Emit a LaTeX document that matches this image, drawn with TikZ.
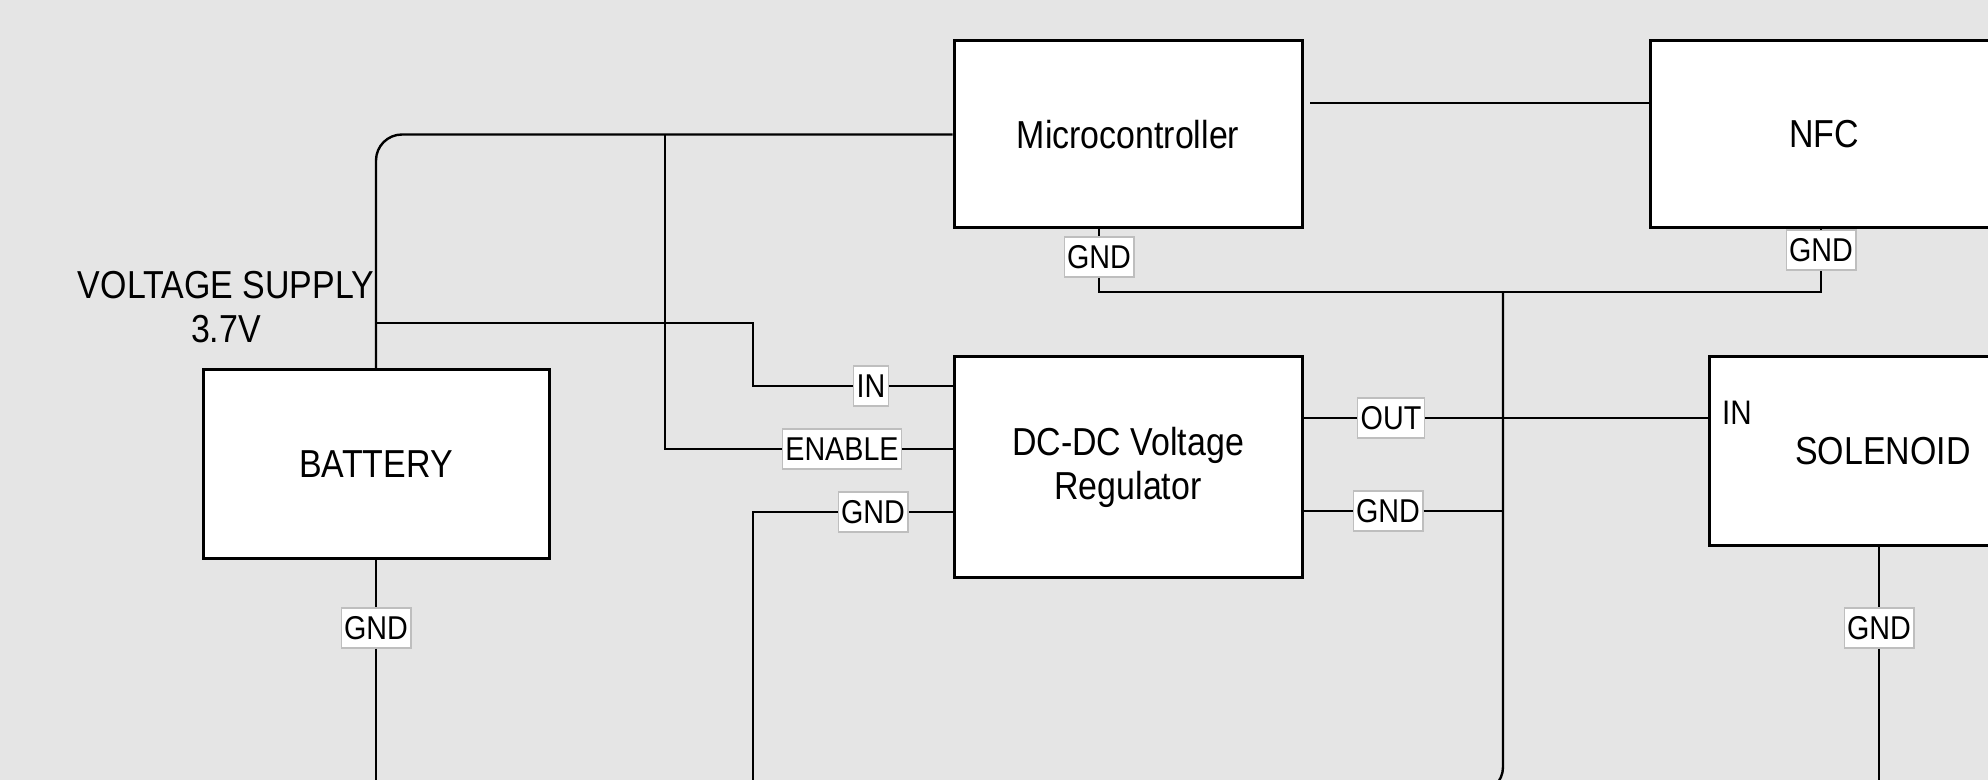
\documentclass[tikz,border=0pt]{standalone}
\usepackage{fontspec}
\setmainfont{Liberation Sans}[FakeStretch=0.87]
\usetikzlibrary{positioning, calc}
\definecolor{canvasgray}{RGB}{229,229,229}
\definecolor{taggray}{RGB}{190,190,190}

\begin{document}
\begin{tikzpicture}[
      x=0.5pt, y=-0.5pt,
      node distance  = 63pt and 172.5pt,
      block/.style   = {draw=black, line width=1.5pt, fill=white, inner sep=0pt,
                        minimum width=174pt, minimum height=93.5pt, align=center,
                        font=\fontsize{19.5}{22}\selectfont},
      tag/.style     = {draw=taggray, line width=0.6pt, fill=white, inner xsep=1.5pt,
                        inner ysep=0pt, minimum height=20pt,
                        font=\fontsize{16.5}{19}\selectfont},
      wire/.style    = {draw=black, line width=1.2pt}
    ]

    % Canvas
    \fill[canvasgray] (0,0) rectangle (1988,780);
    \useasboundingbox (0,0) rectangle (1988,780);
    \clip (0,0) rectangle (1988,780);

    % Blocks
    \node[block] (mcu) at (1128,134.5) {Microcontroller};
    \node[block, right=of mcu] (nfc) {NFC};
    \node[block, minimum height=110.5pt, below=of mcu] (reg) {DC-DC Voltage\\Regulator};
    \node[block, minimum height=94.5pt, right=202pt of reg.north east, anchor=north west] (sol) {SOLENOID};
    \node[block, minimum width=173pt, minimum height=94.5pt] (batt) at (376,464) {BATTERY};

    % Texts
    \node[inner sep=0pt, align=center, font=\fontsize{19.5}{22}\selectfont] (supply) at (226,307.5) {VOLTAGE SUPPLY\\3.7V};
    \node[inner sep=0pt, font=\fontsize{17}{19}\selectfont] (solin) at (1737,413) {IN};

    % Pin tags
    \node[tag] (tagin)   at (871,386)  {IN};
    \node[tag] (tagen)   at (842,449)  {ENABLE};
    \node[tag] (taggl)   at (873,512)  {GND};
    \node[tag] (tagout)  at (1391,418) {OUT};
    \node[tag] (taggr)   at (1388,511) {GND};
    \node[tag] (taggm)   at (1099,257) {GND};
    \node[tag] (taggn)   at (1821,250) {GND};
    \node[tag] (taggb)   at (376,628)  {GND};
    \node[tag] (taggs)   at (1879,628) {GND};

    % Junctions and loose ends
    \coordinate (jsup)   at (376,323);
    \coordinate (jen)    at (665,134.5);
    \coordinate (cin)    at (753,386);
    \coordinate (mcuio)  at (1302,103);
    \coordinate (jbus)   at (1503,292);
    \coordinate (busend) at (1503,793);
    \coordinate (busoff) at (1380,793);
    \coordinate (gndl)   at (753,800);
    \coordinate (gndb)   at (376,800);
    \coordinate (gnds)   at (1879,800);

    % Supply
    \draw[wire, rounded corners=13pt] (batt.north) |- (mcu.west);
    \draw[wire] (jsup) -| (cin) -- (tagin.west);
    \draw[wire] (tagin.east) -- (reg.west |- tagin);
    \draw[wire] (jen) |- (tagen.west);
    \draw[wire] (tagen.east) -- (reg.west |- tagen);
    \draw[wire, shorten <=4pt] (mcuio) -- (nfc.west |- mcuio);

    % Output
    \draw[wire] (reg.east |- tagout) -- (tagout.west);
    \draw[wire] (tagout.east) -- (sol.west |- tagout);

    % Ground
    \draw[wire] (reg.west |- taggl) -- (taggl.east);
    \draw[wire] (taggl.west) -| (gndl);
    \draw[wire] (reg.east |- taggr) -- (taggr.west);
    \draw[wire] (taggr.east) -- (taggr.east -| jbus);
    \draw[wire] (mcu.south -| taggm) -- (taggm.north);
    \draw[wire] (nfc.south -| taggn) -- (taggn.north);
    \draw[wire] (taggm.south) |- (jbus) -| (taggn.south);
    \draw[wire, rounded corners=13pt] (jbus) -- (busend) -- (busoff);
    \draw[wire] (batt.south) -- (taggb.north);
    \draw[wire] (taggb.south) -- (gndb);
    \draw[wire] (sol.south -| taggs) -- (taggs.north);
    \draw[wire] (taggs.south) -- (gnds);

  \end{tikzpicture}
\end{document}
